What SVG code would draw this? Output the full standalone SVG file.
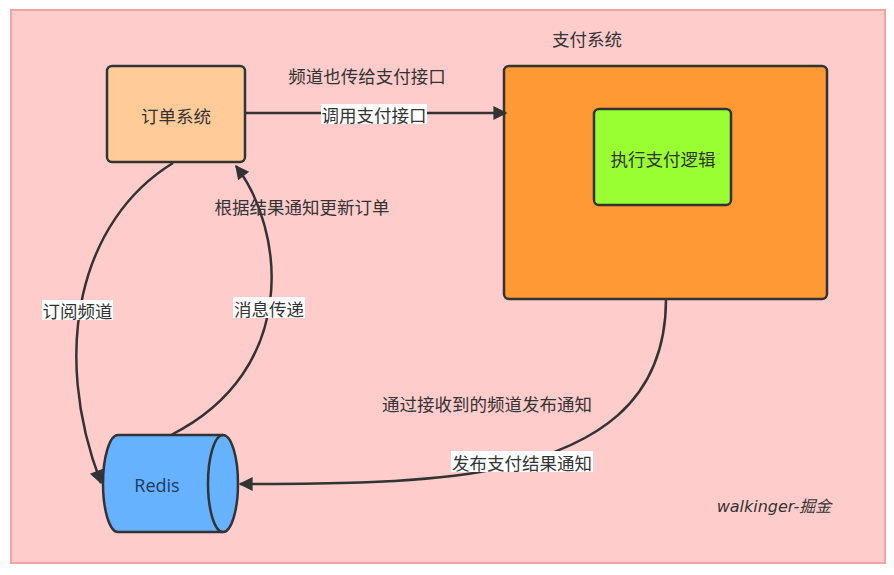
<svg xmlns="http://www.w3.org/2000/svg" width="894" height="575" viewBox="0 0 894 575">
<style>
.box{stroke:#333;stroke-width:2.5}
.t{font-family:"Noto Sans CJK SC","Liberation Sans",sans-serif;font-size:17.5px;fill:#333;text-anchor:middle;dominant-baseline:central}
.edge{fill:none;stroke:#333;stroke-width:2.5}
.lbg{fill:#fff}
</style>
<defs>
<marker id="arr" viewBox="0 0 10 10" refX="9" refY="5" markerWidth="20" markerHeight="14" markerUnits="userSpaceOnUse" orient="auto">
<path d="M0,0 L10,5 L0,10 Z" fill="#333"/>
</marker>
</defs>
<rect width="894" height="575" fill="#fff"/>
<rect id="frame" x="11" y="10" width="874" height="553" fill="#FFCCCC" stroke="#F4A3A3" stroke-width="2"/>
<text class="t" x="587" y="38">支付系统</text>
<g id="order">
<rect class="box" x="107" y="66" width="138" height="96" rx="5" fill="#FFCC99"/>
<text class="t" x="176" y="115">订单系统</text>
</g>
<g id="pay">
<rect class="box" x="504" y="66" width="323" height="233" rx="5" fill="#FF9933"/>
</g>
<g id="logic">
<rect class="box" x="594" y="109" width="137" height="96" rx="5" fill="#99FF33"/>
<text class="t" x="663" y="158">执行支付逻辑</text>
</g>
<g id="redis">
<path class="box" d="M118,435 L223,435 A15,48.5 0 0 1 223,532 L118,532 A15,48.5 0 0 1 118,435 Z" fill="#66B2FF"/>
<path class="box" d="M223,435 A15,48.5 0 0 0 223,532" fill="none"/>
<text x="157" y="485" font-family="'Open Sans','Liberation Sans',sans-serif" font-size="18" fill="#1E3A5F" text-anchor="middle" dominant-baseline="central">Redis</text>
</g>
<g id="connectors">
<path class="edge" d="M245,113 L506,113" marker-end="url(#arr)"/>
<path class="edge" d="M173,163 C80,220 50,350 101,483" marker-end="url(#arr)"/>
<path class="edge" d="M171,435 C300,370 285,230 236,166" marker-end="url(#arr)"/>
<path class="edge" d="M666,299 C666,400 600,450 480,472 C400,485 300,484 240,484" marker-end="url(#arr)"/>
<rect class="lbg" x="321" y="104" width="106" height="20"/>
<text class="t" x="374" y="114">调用支付接口</text>
<text class="t" x="367" y="75">频道也传给支付接口</text>
<text class="t" x="302" y="206">根据结果通知更新订单</text>
<rect class="lbg" x="42" y="300" width="71" height="20"/>
<text class="t" x="77.5" y="310">订阅频道</text>
<rect class="lbg" x="233" y="297" width="72" height="21"/>
<text class="t" x="269" y="308">消息传递</text>
<text class="t" x="487" y="403">通过接收到的频道发布通知</text>
<rect class="lbg" x="451" y="451" width="142" height="21"/>
<text class="t" x="522" y="462">发布支付结果通知</text>
</g>
<text x="774" y="506" font-family="'DejaVu Sans','Noto Sans CJK SC',sans-serif" font-style="italic" font-size="16" fill="#333" text-anchor="middle" dominant-baseline="central">walkinger-掘金</text>
</svg>
